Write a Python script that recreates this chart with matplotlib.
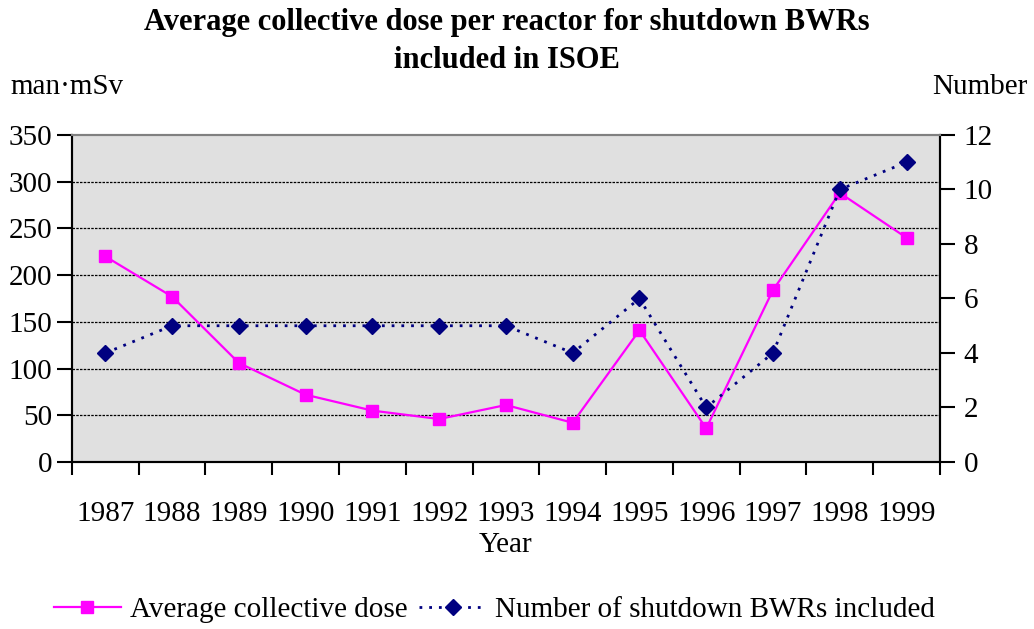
import matplotlib
matplotlib.use('Agg')
import matplotlib.pyplot as plt
import numpy as np

years = ['1987', '1988', '1989', '1990', '1991', '1992', '1993',
         '1994', '1995', '1996', '1997', '1998', '1999']
avg_dose = [220, 177, 106, 72, 55, 46, 61, 42, 141, 36, 184, 288, 240]
n_reactors = [4, 5, 5, 5, 5, 5, 5, 4, 6, 2, 4, 10, 11]

plt.rcParams['font.family'] = ['Liberation Serif', 'DejaVu Serif']

fig = plt.figure(figsize=(10.34, 6.29), dpi=100)
ax = fig.add_axes([0.0696, 0.2655, 0.8394, 0.5199])
ax2 = ax.twinx()

x = np.arange(len(years))
magenta = '#ff00ff'
navy = '#000080'
fs = 21

ax.set_facecolor('#e0e0e0')
ax.set_xlim(-0.5, len(years) - 0.5)
ax.set_ylim(0, 350)
ax2.set_ylim(0, 12)

for yv in range(50, 350, 50):
    ax.axhline(yv, color='black', linestyle=(0, (2, 1)), linewidth=0.9, zorder=1)

ax.plot(x, avg_dose, color=magenta, linewidth=1.6, marker='s', markersize=8.5,
        markerfacecolor=magenta, markeredgecolor=magenta, zorder=3,
        label='Average collective dose')
ax2.plot(x, n_reactors, color=navy, linewidth=2, linestyle=(0, (1, 2.5)),
         marker='D', markersize=8.5, markerfacecolor=navy, markeredgecolor=navy,
         zorder=3, label='Number of shutdown BWRs included')

# category boundaries carry the ticks
ax.set_xticks(np.arange(-0.5, len(years), 1))
ax.set_xticklabels([])
ax.set_xticks(x, minor=True)
ax.set_xticklabels(years, minor=True)
ax.tick_params(axis='x', which='major', direction='out', length=9, width=1.5)
ax.tick_params(axis='x', which='minor', length=0, pad=28, labelsize=fs)

ax.set_yticks(range(0, 351, 50))
ax.tick_params(axis='y', direction='out', length=11, width=1.5, labelsize=fs, pad=3)
ax2.set_yticks(range(0, 13, 2))
ax2.tick_params(axis='y', direction='out', length=11, width=1.5, labelsize=fs, pad=6)

for a in (ax, ax2):
    a.spines['top'].set_color('#808080')
    a.spines['top'].set_linewidth(1.5)
    a.spines['left'].set_linewidth(1.5)
    a.spines['right'].set_linewidth(1.5)
    a.spines['bottom'].set_linewidth(1.5)

ax.set_xlabel('Year', fontsize=fs, labelpad=4)

fig.text(0.490, 0.988, 'Average collective dose per reactor for shutdown BWRs\nincluded in ISOE',
         ha='center', va='top', fontsize=22, fontweight='bold', linespacing=1.45)
fig.text(0.010, 0.862, 'man\u00b7mSv', ha='left', va='center', fontsize=fs)
fig.text(0.994, 0.862, 'Number', ha='right', va='center', fontsize=fs)

h1, l1 = ax.get_legend_handles_labels()
h2, l2 = ax2.get_legend_handles_labels()
fig.legend(h1 + h2, l1 + l2, loc='center', bbox_to_anchor=(0.478, 0.03), ncol=2,
           frameon=False, fontsize=fs, handlelength=2.3, columnspacing=0.4,
           handletextpad=0.3)

fig.savefig('out.png', dpi=100)
